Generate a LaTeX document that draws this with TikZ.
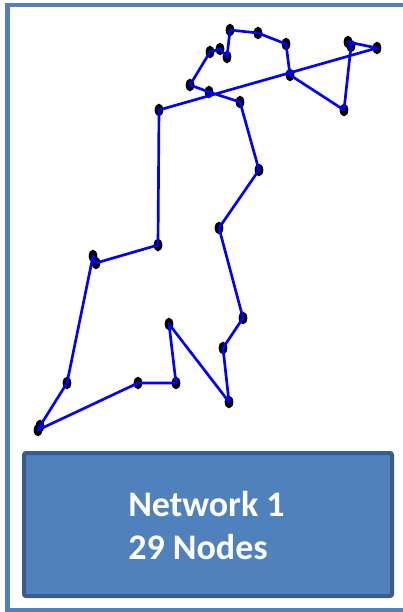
\documentclass[tikz,border=0pt]{standalone}
\usepackage{fontspec}
\setmainfont{Carlito}
\usetikzlibrary{shapes.geometric}
\definecolor{frameblue}{HTML}{4F81BD}
\definecolor{boxfill}{HTML}{4F81BD}
\definecolor{boxedge}{HTML}{385D8A}
\begin{document}
\begin{tikzpicture}[x=0.75pt,y=-0.75pt,
  pt/.style={ellipse,fill=black,draw=none,minimum width=6.5pt,minimum height=9.5pt,inner sep=0pt},
  tour/.style={draw=blue,line width=2pt,line join=round}]
\useasboundingbox (0,0) rectangle (403,612);
\begin{scope}
\clip (0,0) rectangle (403,612);
\draw[frameblue,line width=3.4pt] (7.5,5) rectangle (420,610);
\end{scope}
% nodes
\node[pt] (a1) at (230,30) {};
\node[pt] (a2) at (258,33) {};
\node[pt] (a3) at (286,44) {};
\node[pt] (a4) at (348,42) {};
\node[pt] (a4b) at (351,46) {};
\node[pt] (a5) at (377,48) {};
\node[pt] (a6) at (210,52) {};
\node[pt] (a7) at (220,49) {};
\node[pt] (a8) at (227,57) {};
\node[pt] (a9) at (290,75) {};
\node[pt] (a10) at (190,85) {};
\node[pt] (a11) at (209,92) {};
\node[pt] (a12) at (240,102) {};
\node[pt] (a13) at (159,110) {};
\node[pt] (a14) at (344,110) {};
\node[pt] (a15) at (259,170) {};
\node[pt] (a16) at (219,228) {};
\node[pt] (a17) at (158,245) {};
\node[pt] (a18) at (93,256) {};
\node[pt] (a19) at (96,263) {};
\node[pt] (a20) at (243,318) {};
\node[pt] (a21) at (169,324) {};
\node[pt] (a22) at (223,348) {};
\node[pt] (a23) at (67,383) {};
\node[pt] (a24) at (138,383) {};
\node[pt] (a25) at (176,383) {};
\node[pt] (a26) at (229,402) {};
\node[pt] (a27) at (40,426) {};
\node[pt] (a28) at (38,430) {};
% tour
\draw[tour] (a13.center) -- (a5.center) -- (a4.center) -- (a4b.center) -- (a14.center)
  -- (a9.center) -- (a3.center) -- (a2.center) -- (a1.center) -- (a8.center)
  -- (a7.center) -- (a6.center) -- (a10.center) -- (a11.center) -- (a12.center)
  -- (a15.center) -- (a16.center) -- (a20.center) -- (a22.center) -- (a26.center)
  -- (a21.center) -- (a25.center) -- (a24.center) -- (a28.center) -- (a27.center)
  -- (a23.center) -- (a18.center) -- (a19.center) -- (a17.center) -- cycle;
% label box
\draw[fill=boxfill,draw=boxedge,line width=3pt,rounded corners=1.5pt] (24,453) rectangle (392,596);
\node[text=white,font=\fontsize{27}{32.25}\selectfont\bfseries,align=left,inner sep=0pt,anchor=base west] (lbl) at (128,559) {Network 1\\29 Nodes};
\end{tikzpicture}
\end{document}
